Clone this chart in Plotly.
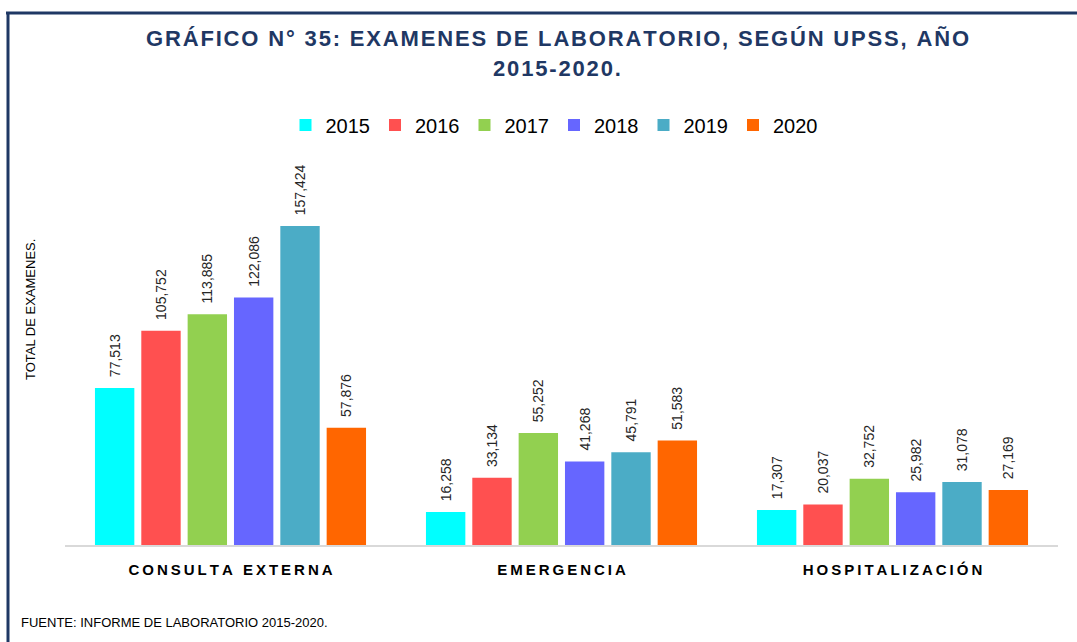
import plotly.graph_objects as go

# --- data -------------------------------------------------------------
categorias = ["CONSULTA EXTERNA", "EMERGENCIA", "HOSPITALIZACIÓN"]
anios = ["2015", "2016", "2017", "2018", "2019", "2020"]
v2015 = [77513, 16258, 17307]
v2016 = [105752, 33134, 20037]
v2017 = [113885, 55252, 32752]
v2018 = [122086, 41268, 25982]
v2019 = [157424, 45791, 31078]
v2020 = [57876, 51583, 27169]
series = [v2015, v2016, v2017, v2018, v2019, v2020]
colores = ["#00FFFF", "#FF5050", "#92D050", "#6666FF", "#4BACC6", "#FF6600"]

titulo = ["GRÁFICO N° 35: EXAMENES DE LABORATORIO, SEGÚN UPSS, AÑO", "2015-2020."]
fuente = "FUENTE: INFORME DE LABORATORIO 2015-2020."
eje_y = "TOTAL DE EXAMENES."

# --- layout constants -------------------------------------------------
W, H = 1077, 642
ML, MR, MT, MB = 65, 19, 175, 97
NAVY = "#1F3864"
FONT = "Liberation Sans, Arial"
THIN = "\u2009"
HAIR = "\u200A"
NBSP = "\u00A0"


def espaciado(texto, sep=THIN):
    return sep.join(list(texto))


fig = go.Figure()
for anio, vals, col in zip(anios, series, colores):
    fig.add_trace(go.Bar(
        name=anio, x=categorias, y=vals,
        marker=dict(color=col, line=dict(width=0)),
        text=vals, texttemplate=NBSP * 2 + "%{y:,}", textposition="outside",
        textangle=-90, cliponaxis=False, constraintext="none",
        textfont=dict(family=FONT, size=14, color="#262626"),
    ))

pw = W - ML - MR
ph = H - MT - MB


def px2x(px):
    return (px - ML) / pw


def px2y(py):
    return (H - MB - py) / ph


shapes = [
    dict(type="line", xref="paper", yref="paper",
         x0=px2x(6), x1=px2x(W + 5), y0=px2y(13), y1=px2y(13),
         line=dict(color=NAVY, width=3)),
    dict(type="line", xref="paper", yref="paper",
         x0=px2x(8), x1=px2x(8), y0=px2y(12), y1=px2y(H + 5),
         line=dict(color=NAVY, width=3)),
]

annotations = [
    dict(text="<b>" + espaciado(titulo[0], HAIR) + "</b>", xref="paper", yref="paper",
         x=px2x(557), y=px2y(38), xanchor="center", yanchor="middle",
         showarrow=False, font=dict(family=FONT, size=22, color=NAVY)),
    dict(text="<b>" + espaciado(titulo[1], HAIR) + "</b>", xref="paper", yref="paper",
         x=px2x(557), y=px2y(68), xanchor="center", yanchor="middle",
         showarrow=False, font=dict(family=FONT, size=22, color=NAVY)),
    dict(text=fuente, xref="paper", yref="paper",
         x=px2x(19), y=px2y(622), xanchor="left", yanchor="middle",
         showarrow=False, font=dict(family=FONT, size=13, color="#000000")),
    dict(text=eje_y, xref="paper", yref="paper", textangle=-90,
         x=px2x(30), y=px2y(310), xanchor="center", yanchor="middle",
         showarrow=False, font=dict(family=FONT, size=13, color="#000000")),
]

fig.update_layout(
    width=W, height=H,
    margin=dict(l=ML, r=MR, t=MT, b=MB),
    paper_bgcolor="white", plot_bgcolor="white",
    barmode="group", bargap=0.16, bargroupgap=0.15,
    showlegend=True,
    legend=dict(orientation="h", x=px2x(554), y=px2y(125), xanchor="center",
                yanchor="middle", font=dict(family=FONT, size=20, color="#000000"),
                itemwidth=30, traceorder="normal"),
    shapes=shapes, annotations=annotations,
    xaxis=dict(
        tickmode="array", tickvals=categorias,
        ticktext=["<b>" + espaciado(c, THIN) + "</b>" for c in categorias],
        tickfont=dict(family=FONT, size=15, color="#000000"),
        showline=True, linecolor="#D9D9D9", linewidth=2, ticks="",
        showgrid=False, ticklabelstandoff=10,
    ),
    yaxis=dict(range=[0, 157424 * ph / 319], visible=False, showgrid=False),
)

fig.write_html("out.html")
